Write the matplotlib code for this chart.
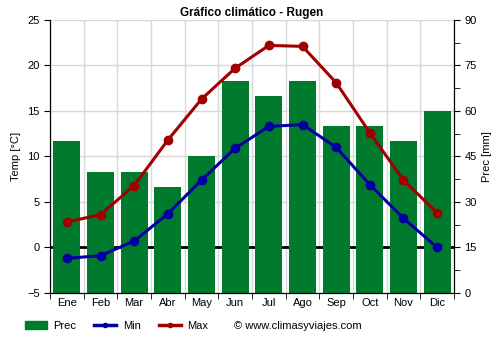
import matplotlib
matplotlib.use('Agg')
import matplotlib.pyplot as plt
from matplotlib.lines import Line2D
from matplotlib.patches import Patch
import numpy as np

# data
months = ['Ene', 'Feb', 'Mar', 'Abr', 'May', 'Jun', 'Jul', 'Ago', 'Sep', 'Oct', 'Nov', 'Dic']
prec   = [50, 40, 40, 35, 45, 70, 65, 70, 55, 55, 50, 60]
tmin   = [-1.2, -0.9, 0.7, 3.7, 7.4, 10.9, 13.3, 13.5, 11.0, 6.9, 3.2, 0.0]
tmax   = [2.8, 3.6, 6.8, 11.8, 16.3, 19.7, 22.2, 22.1, 18.1, 12.6, 7.4, 3.8]

green = '#007b2e'
blue  = '#0000a0'
red   = '#a00000'

plt.rcParams['font.family'] = ['Liberation Sans', 'DejaVu Sans']
fig = plt.figure(figsize=(5, 3.5), dpi=100)
ax1 = fig.add_axes([0.1, 0.163, 0.808, 0.78])
ax2 = ax1.twinx()

x = np.arange(len(months))

# grid + zero line under the bars (prec axis: temp t -> (t+5)*3)
for yv in np.arange(-5, 26, 5):
    ax2.axhline((yv + 5) * 3, color='#d8d8d8', lw=1, zorder=0)
for xv in np.arange(-0.5, 12, 1):
    ax2.axvline(xv, color='#d8d8d8', lw=1, zorder=0)
ax2.axhline(15, color='black', lw=2, zorder=0.5)

# bars on the precipitation axis
ax2.bar(x, prec, width=0.8, color=green, zorder=1)
ax2.set_ylim(0, 90)
ax2.set_yticks(np.arange(0, 91, 15))
ax2.set_yticks(np.arange(0, 91, 7.5), minor=True)
ax2.set_ylabel('Prec [mm]', fontsize=8)
ax2.tick_params(axis='y', labelsize=8, direction='out', length=4)
ax2.tick_params(axis='y', which='minor', length=4)

# temperature lines on top
ax1.set_zorder(ax2.get_zorder() + 1)
ax1.patch.set_visible(False)
ax1.plot(x, tmin, color=blue, lw=2.2, marker='o', ms=6, zorder=3)
ax1.plot(x, tmax, color=red, lw=2.2, marker='o', ms=6, zorder=3)
ax1.set_ylim(-5, 25)
ax1.set_yticks(np.arange(-5, 26, 5))
ax1.set_xlim(-0.5, 11.5)
ax1.set_xticks(x)
ax1.set_xticklabels(months)
ax1.set_xticks(np.arange(-0.5, 12, 1), minor=True)
ax1.tick_params(axis='x', which='major', length=0, labelsize=8)
ax1.tick_params(axis='x', which='minor', length=4)
ax1.tick_params(axis='y', labelsize=8, length=4)
ax1.set_ylabel('Temp [°C]', fontsize=8)
ax1.set_title('Gráfico climático - Rugen', fontsize=8.5, fontweight='bold', pad=3)

for a in (ax1, ax2):
    a.spines['top'].set_visible(False)

handles = [Patch(color=green, label='Prec'),
           Line2D([], [], color=blue, lw=2.5, marker='o', ms=3, label='Min'),
           Line2D([], [], color=red, lw=2.5, marker='o', ms=3, label='Max')]
fig.legend(handles=handles, loc='center left', bbox_to_anchor=(0.049, 0.068), ncol=3,
           frameon=False, fontsize=8, handlelength=2.0, handletextpad=0.6,
           columnspacing=1.6, borderaxespad=0, borderpad=0)
fig.text(0.468, 0.068, '© www.climasyviajes.com', fontsize=8, va='center')

fig.savefig('out.png', dpi=100)
